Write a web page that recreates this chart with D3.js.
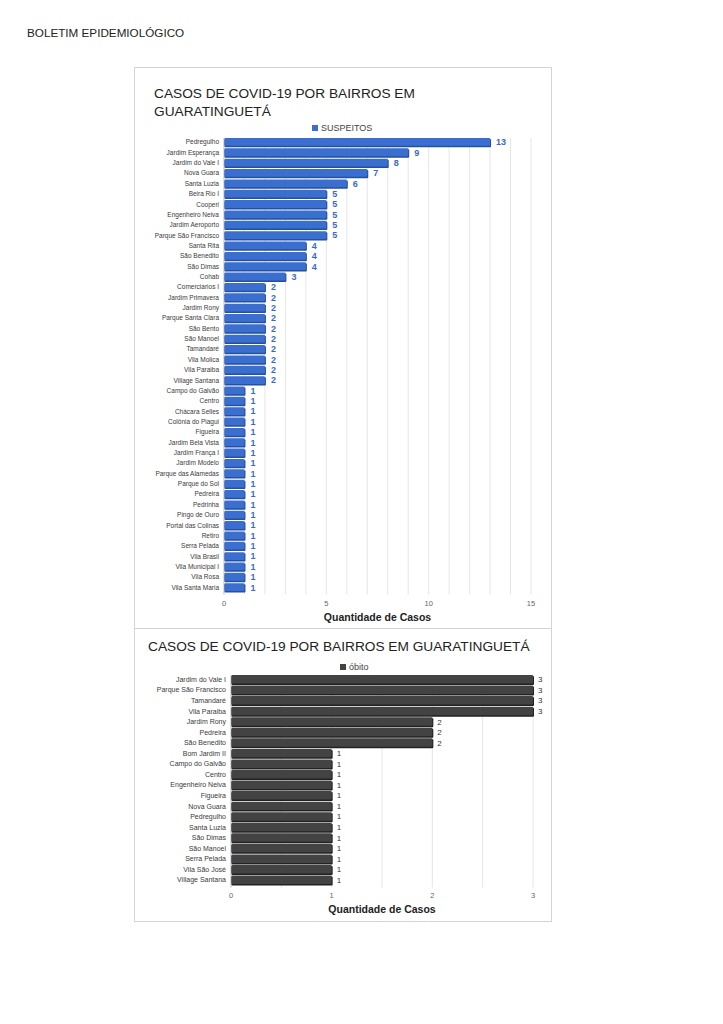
<!DOCTYPE html>
<html>
<head>
<meta charset="utf-8">
<script src="https://cdn.jsdelivr.net/npm/d3@7"></script>
<style>
  body { margin: 0; background: #fff; }
  svg { font-family: "Liberation Sans", Arial, sans-serif; }
</style>
</head>
<body>
<svg id="page" width="723" height="1024"></svg>
<script>
// suspeitos por bairro
var bairrosSusp = ["Pedregulho", "Jardim Esperança", "Jardim do Vale I", "Nova Guara", "Santa Luzia",
  "Beira Rio I", "Cooperi", "Engenheiro Neiva", "Jardim Aeroporto", "Parque São Francisco",
  "Santa Rita", "São Benedito", "São Dimas", "Cohab", "Comerciarios I", "Jardim Primavera",
  "Jardim Rony", "Parque Santa Clara", "São Bento", "São Manoel", "Tamandaré", "Vila Molica",
  "Vila Paraiba", "Village Santana", "Campo do Galvão", "Centro", "Chácara Selles",
  "Colônia do Piagui", "Figueira", "Jardim Bela Vista", "Jardim França I", "Jardim Modelo",
  "Parque das Alamedas", "Parque do Sol", "Pedreira", "Pedrinha", "Pingo de Ouro",
  "Portal das Colinas", "Retiro", "Serra Pelada", "Vila Brasil", "Vila Municipal I",
  "Vila Rosa", "Vila Santa Maria"];
var suspeitos = [13, 9, 8, 7, 6, 5, 5, 5, 5, 5, 4, 4, 4, 3, 2, 2, 2, 2, 2, 2, 2, 2, 2, 2,
  1, 1, 1, 1, 1, 1, 1, 1, 1, 1, 1, 1, 1, 1, 1, 1, 1, 1, 1, 1];
var ticksSusp = [0, 5, 10, 15];

// óbitos por bairro
var bairrosObito = ["Jardim do Vale I", "Parque São Francisco", "Tamandaré", "Vila Paraiba",
  "Jardim Rony", "Pedreira", "São Benedito", "Bom Jardim II", "Campo do Galvão", "Centro",
  "Engenheiro Neiva", "Figueira", "Nova Guara", "Pedregulho", "Santa Luzia", "São Dimas",
  "São Manoel", "Serra Pelada", "Vila São José", "Village Santana"];
var obitos = [3, 3, 3, 3, 2, 2, 2, 1, 1, 1, 1, 1, 1, 1, 1, 1, 1, 1, 1, 1];
var ticksObito = [0, 1, 2, 3];

var svg = d3.select("#page");

svg.append("text")
    .attr("x", 27).attr("y", 37)
    .style("font-size", "11.7px").style("fill", "#222")
    .text("BOLETIM EPIDEMIOLÓGICO");

// molduras
svg.append("rect").attr("x", 134.5).attr("y", 67.5).attr("width", 417).attr("height", 561)
    .attr("fill", "none").attr("stroke", "#d4d4d4");
svg.append("rect").attr("x", 134.5).attr("y", 628.5).attr("width", 417).attr("height", 293)
    .attr("fill", "none").attr("stroke", "#d4d4d4");

function barChart(o) {
  var g = svg.append("g");
  var x = d3.scaleLinear().domain([0, o.max]).range(o.xr);
  var y = d3.scaleBand().domain(o.cats).range(o.yr).paddingInner(o.pad);

  // grade
  g.selectAll(".grid")
    .data(d3.range(o.gridStep, o.max + 0.001, o.gridStep))
    .enter().append("line")
      .attr("x1", function(d) { return x(d); })
      .attr("x2", function(d) { return x(d); })
      .attr("y1", o.yr[0]).attr("y2", o.yr[1] + 3)
      .attr("stroke", "#e6e6e6").attr("stroke-width", 1);

  g.append("line")
    .attr("x1", x(0)).attr("x2", x(0))
    .attr("y1", o.yr[0]).attr("y2", o.yr[1] + 3)
    .attr("stroke", "#bbb");

  var bar = g.selectAll(".bar")
    .data(o.vals)
    .enter().append("g");

  bar.append("rect")
      .attr("x", x(0) + 0.5)
      .attr("y", function(d, i) { return y(o.cats[i]) + 1; })
      .attr("width", function(d) { return x(d) - x(0) + 0.5; })
      .attr("height", y.bandwidth())
      .attr("rx", 1)
      .attr("fill", o.shade);

  bar.append("rect")
      .attr("x", x(0) + 0.5)
      .attr("y", function(d, i) { return y(o.cats[i]); })
      .attr("width", function(d) { return x(d) - x(0) - 0.5; })
      .attr("height", y.bandwidth() - 0.5)
      .attr("rx", 1)
      .attr("fill", o.color);

  bar.append("text")
      .attr("x", function(d) { return x(d) + o.valOff; })
      .attr("y", function(d, i) { return y(o.cats[i]) + y.bandwidth() / 2; })
      .attr("dy", "0.35em")
      .style("font-size", o.valSize).style("fill", o.valColor)
      .style("font-weight", o.valWeight)
      .text(function(d) { return d; });

  g.selectAll(".cat")
    .data(o.cats)
    .enter().append("text")
      .attr("x", x(0) - 5)
      .attr("y", function(d) { return y(d) + y.bandwidth() / 2; })
      .attr("dy", "0.35em")
      .attr("text-anchor", "end")
      .style("font-size", o.catSize).style("fill", "#3a3a3a")
      .text(function(d) { return d; });

  g.selectAll(".tick")
    .data(o.ticks)
    .enter().append("text")
      .attr("x", function(d) { return x(d); })
      .attr("y", o.tickY)
      .attr("text-anchor", "middle")
      .style("font-size", "7.5px").style("fill", "#666")
      .text(function(d) { return d; });

  g.append("text")
    .attr("x", (o.xr[0] + o.xr[1]) / 2).attr("y", o.tickY + 15)
    .attr("text-anchor", "middle")
    .style("font-size", "10.5px").style("font-weight", "bold").style("fill", "#222")
    .text("Quantidade de Casos");

  // legenda
  g.append("rect").attr("x", o.legX).attr("y", o.legY - 6).attr("width", 6).attr("height", 6)
    .attr("fill", o.color);
  g.append("text").attr("x", o.legX + 9).attr("y", o.legY)
    .style("font-size", "9px").style("fill", "#444")
    .text(o.legend);
}

// gráfico 1
svg.append("text").attr("x", 154).attr("y", 98)
  .style("font-size", "13.7px").style("fill", "#222")
  .text("CASOS DE COVID-19 POR BAIRROS EM");
svg.append("text").attr("x", 154).attr("y", 116)
  .style("font-size", "13.7px").style("fill", "#222")
  .text("GUARATINGUETÁ");

barChart({
  cats: bairrosSusp, vals: suspeitos, ticks: ticksSusp, max: 15, gridStep: 1,
  xr: [224, 531], yr: [138, 591.5], pad: 0.2,
  color: "#3a6fd0", shade: "#24509c", valColor: "#3a6bc4", valSize: "9px", valWeight: "bold", valOff: 6,
  catSize: "6.5px", tickY: 606, legX: 312, legY: 131, legend: "SUSPEITOS"
});

// gráfico 2
svg.append("text").attr("x", 148).attr("y", 651)
  .style("font-size", "13.7px").style("fill", "#222")
  .text("CASOS DE COVID-19 POR BAIRROS EM GUARATINGUETÁ");

barChart({
  cats: bairrosObito, vals: obitos, ticks: ticksObito, max: 3, gridStep: 0.5,
  xr: [231, 533], yr: [675, 884.5], pad: 0.15,
  color: "#434343", shade: "#222", valColor: "#333", valSize: "8px", valWeight: "normal", valOff: 5,
  catSize: "7px", tickY: 898, legX: 340, legY: 670, legend: "óbito"
});
</script>
</body>
</html>
